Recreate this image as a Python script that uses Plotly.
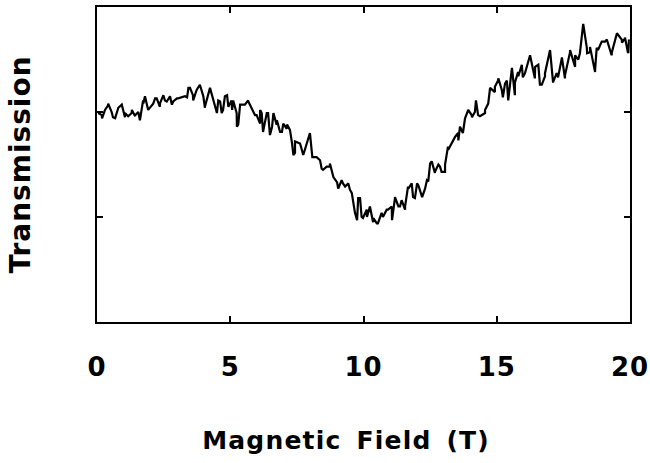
import plotly.graph_objects as go

# Reading pass 1 (coarse trace of the whole curve)
field_a = [0.04, 0.19, 0.41, 0.60, 0.86, 1.05, 1.31, 1.43, 1.61, 1.73, 1.91, 2.18, 2.36, 2.55,
           2.81, 3.00, 3.38, 3.49, 3.60, 3.86, 4.05, 4.24, 4.50, 4.62, 4.73, 4.88, 5.07, 5.25,
           5.37, 5.67, 5.93, 6.12, 6.23, 6.42, 6.57, 6.75, 6.94, 7.13, 7.32, 7.43, 7.62, 7.80,
           7.99, 8.11, 8.37, 8.48, 8.74, 9.01, 9.23, 9.49, 9.61, 9.76, 9.87, 9.98,
           10.13, 10.24, 10.36, 10.54, 10.73, 10.92, 11.07, 11.18, 11.37, 11.56, 11.67, 11.86,
           12.01, 12.20, 12.38, 12.50, 12.68, 12.87, 13.06, 13.17, 13.36, 13.55, 13.62, 13.73,
           13.88, 14.07, 14.22, 14.30, 14.56, 14.75, 14.93, 15.05, 15.23, 15.38, 15.57, 15.68,
           15.80, 15.98, 16.25, 16.44, 16.62, 16.81, 17.00, 17.11, 17.30, 17.45, 17.56, 17.75,
           17.94, 18.12, 18.24, 18.39, 18.50, 18.69, 18.80, 19.06, 19.32, 19.51, 19.70, 19.81,
           19.92, 19.96]
transmission_a = [1.99, 1.94, 2.06, 1.95, 2.05, 1.95, 2.02, 1.97, 1.92, 2.11, 2.02, 2.13, 2.05, 2.11,
                  2.07, 2.13, 2.14, 2.23, 2.16, 2.26, 2.05, 2.23, 1.99, 2.10, 2.02, 2.16, 2.02, 1.86,
                  2.07, 2.11, 1.97, 2.02, 1.81, 1.99, 1.86, 1.92, 1.81, 1.88, 1.70, 1.61, 1.70, 1.64,
                  1.80, 1.57, 1.54, 1.45, 1.48, 1.33, 1.32, 1.26, 1.13, 0.97, 1.18, 0.99,
                  1.00, 1.10, 0.95, 0.94, 1.00, 1.07, 0.97, 1.18, 1.10, 1.07, 1.29, 1.19,
                  1.32, 1.19, 1.35, 1.51, 1.42, 1.48, 1.43, 1.67, 1.73, 1.80, 1.86, 1.80,
                  1.99, 1.95, 2.11, 1.97, 2.02, 2.23, 2.19, 2.30, 2.14, 2.30, 2.42, 2.28,
                  2.38, 2.33, 2.54, 2.43, 2.26, 2.37, 2.59, 2.29, 2.33, 2.51, 2.35, 2.57,
                  2.43, 2.56, 2.83, 2.56, 2.62, 2.40, 2.59, 2.67, 2.57, 2.75, 2.66, 2.71,
                  2.57, 2.69]

# Reading pass 2 (finer trace from magnified views)
field_b = [0.05, 0.18, 0.30, 0.42, 0.55, 0.68, 0.80, 0.93, 1.05, 1.17, 1.30, 1.43, 1.55, 1.61,
           1.74, 1.80, 1.92, 2.11, 2.24, 2.36, 2.49, 2.62, 2.74, 2.86, 3.05, 3.30, 3.43, 3.55,
           3.61, 3.74, 3.86, 3.99, 4.05, 4.24, 4.43, 4.55, 4.68, 4.80, 4.93, 5.05,
           5.11, 5.24, 5.30, 5.37, 5.55, 5.68, 5.80, 5.99, 6.12, 6.18, 6.30, 6.37, 6.49, 6.62,
           6.74, 6.87, 6.99, 7.12, 7.24, 7.37, 7.43, 7.62, 7.74, 7.87, 7.99, 8.08, 8.24, 8.43,
           8.62, 8.74, 8.87, 9.05, 9.18, 9.31, 9.43, 9.56, 9.68, 9.80, 9.93,
           10.12, 10.24, 10.37, 10.50, 10.68, 10.87, 11.06, 11.18, 11.31, 11.43, 11.56, 11.68,
           11.81, 11.93, 12.06, 12.18, 12.31, 12.43, 12.56, 12.68, 12.81, 12.93, 13.06, 13.18,
           13.31, 13.43, 13.56, 13.68, 13.81, 13.93, 14.06, 14.18, 14.37, 14.56, 14.68,
           14.75, 14.93, 15.06, 15.19, 15.31, 15.43, 15.56, 15.68, 15.81, 15.94, 16.06, 16.25,
           16.43, 16.56, 16.69, 16.81, 17.00, 17.12, 17.25, 17.44, 17.56, 17.75, 17.94, 18.06,
           18.25, 18.38, 18.50, 18.69, 18.75, 18.94, 19.13, 19.31, 19.50, 19.69, 19.81, 19.94,
           19.97]
transmission_b = [1.99, 1.97, 2.02, 2.08, 2.00, 1.94, 2.04, 2.07, 1.99, 1.96, 1.99, 1.96, 2.00, 1.92,
                  2.08, 2.15, 2.02, 2.08, 2.13, 2.08, 2.16, 2.10, 2.15, 2.10, 2.13, 2.15, 2.23, 2.19,
                  2.11, 2.21, 2.26, 2.15, 2.04, 2.23, 2.04, 2.11, 1.99, 2.15, 2.05, 2.11,
                  2.11, 1.99, 1.88, 2.04, 2.07, 2.10, 2.04, 1.97, 1.89, 1.99, 1.91, 1.99, 1.78, 1.99,
                  1.88, 1.81, 1.89, 1.84, 1.83, 1.59, 1.72, 1.70, 1.59, 1.70, 1.78, 1.57, 1.57, 1.46,
                  1.48, 1.51, 1.38, 1.27, 1.35, 1.29, 1.32, 1.23, 1.04, 1.18, 1.00,
                  1.07, 1.10, 0.99, 0.94, 1.04, 1.07, 1.10, 1.19, 1.10, 1.16, 1.10, 1.27,
                  1.32, 1.18, 1.30, 1.19, 1.27, 1.34, 1.53, 1.43, 1.50, 1.43, 1.50, 1.64,
                  1.70, 1.76, 1.73, 1.83, 1.94, 2.02, 1.97, 2.00, 1.96, 1.99, 2.08,
                  2.19, 2.24, 2.32, 2.21, 2.27, 2.11, 2.42, 2.16, 2.34, 2.45, 2.37, 2.54,
                  2.32, 2.45, 2.26, 2.34, 2.59, 2.29, 2.37, 2.51, 2.32, 2.59, 2.54, 2.50,
                  2.83, 2.61, 2.57, 2.38, 2.61, 2.67, 2.69, 2.54, 2.75, 2.69, 2.70, 2.57,
                  2.67]

x_ticks = [0, 5, 10, 15, 20]
y_ticks = [1, 2]
x_title = "Magnetic Field (T)"
y_title = "Transmission"

# combine both reading passes into one trace ordered by field
points = sorted(zip(field_a + field_b, transmission_a + transmission_b))
field = [p[0] for p in points]
transmission = [p[1] for p in points]

font_family = "DejaVu Sans"

fig = go.Figure(
    go.Scatter(x=field, y=transmission, mode="lines",
               line=dict(color="black", width=2.2), showlegend=False)
)

fig.update_layout(
    width=650, height=463,
    margin=dict(l=97, r=20, t=7, b=141, autoexpand=False),
    paper_bgcolor="white", plot_bgcolor="white",
    font=dict(family=font_family, color="black"),
    annotations=[dict(
        text=x_title, xref="paper", yref="paper", x=0.467, y=-0.375,
        xanchor="center", yanchor="middle", showarrow=False,
        font=dict(size=25, family=font_family, weight="bold", color="black"),
    )],
)

fig.update_xaxes(
    range=[0, 20], tickvals=x_ticks, ticktext=[str(v) for v in x_ticks],
    ticks="inside", ticklen=6, tickwidth=2, tickcolor="black",
    showline=True, linewidth=2, linecolor="black", mirror="ticks",
    showgrid=False, zeroline=False, automargin=False,
    tickfont=dict(size=26, family=font_family, weight="bold"),
    ticklabelstandoff=21,
)

fig.update_yaxes(
    range=[0, 3], tickvals=y_ticks, showticklabels=False,
    ticks="inside", ticklen=6, tickwidth=2, tickcolor="black",
    showline=True, linewidth=2, linecolor="black", mirror="ticks",
    showgrid=False, zeroline=False, automargin=False,
    title=dict(text=y_title, standoff=56,
               font=dict(size=28, family=font_family, weight="bold")),
)

post = (
    "document.body.style.margin='0';document.body.style.overflow='hidden';"
    "document.querySelectorAll('.annotation-text').forEach(function(e){e.style.letterSpacing='1.2px';e.style.wordSpacing='5px';});"
    "document.querySelectorAll('.ytitle').forEach(function(e){e.style.letterSpacing='1px';});"
    "document.querySelectorAll('.xtick text').forEach(function(e){e.style.letterSpacing='1px';});"
)

fig.write_html("out.html", config={"displayModeBar": False}, post_script=post)
